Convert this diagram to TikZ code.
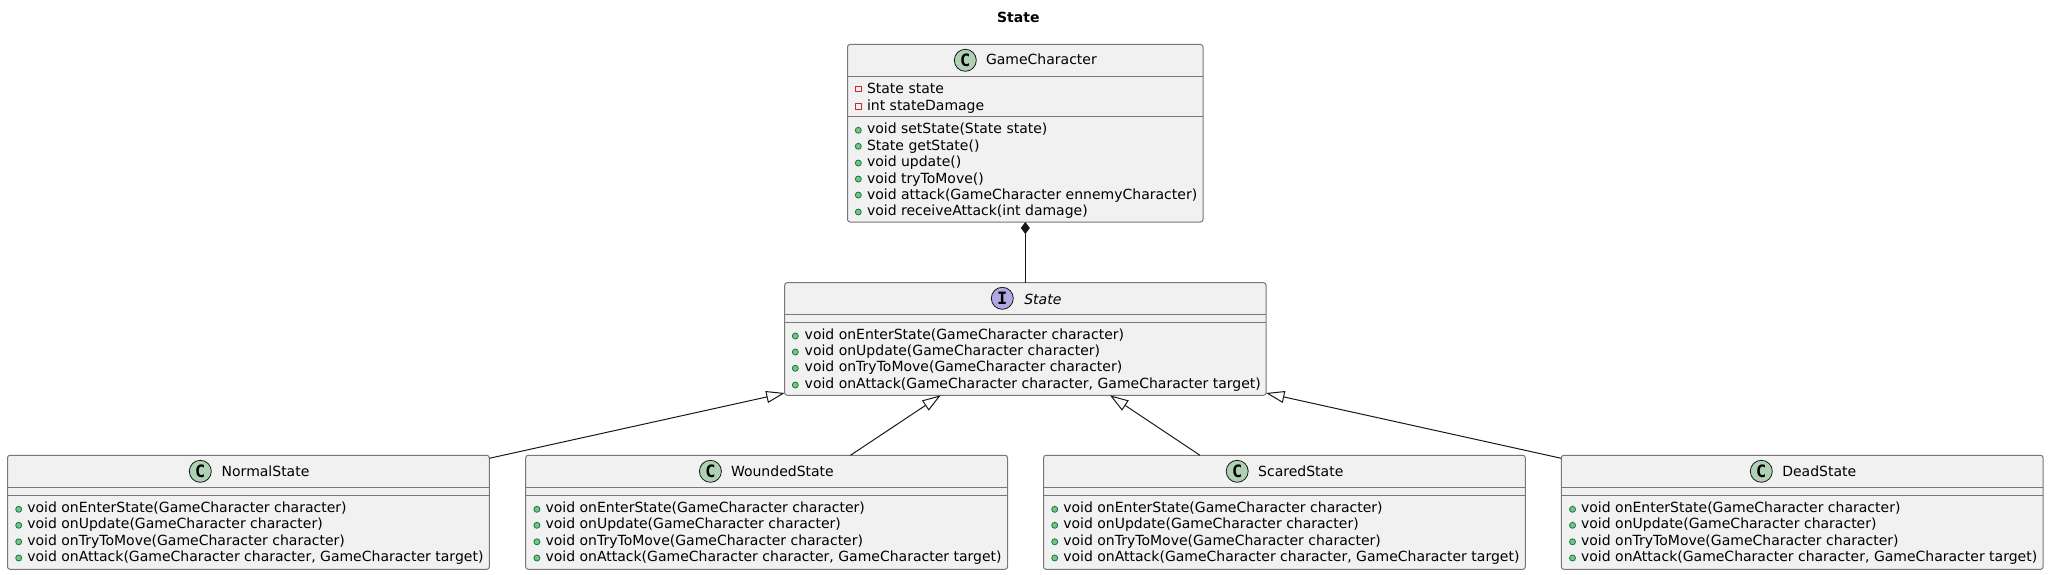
\documentclass[tikz,border=0pt]{standalone}
\usepackage{fontspec}
\setmainfont{DejaVu Sans}
\setmonofont{DejaVu Sans Mono}
\usetikzlibrary{arrows.meta}
\tikzset{
  x=1pt,y=-1pt,
  classbox/.style={draw=umlborder,fill=umlfill,line width=1pt,rounded corners=2.5pt,anchor=north west,inner sep=0pt,outer sep=0pt},
  sepline/.style={draw=umlborder,line width=1pt},
  txt/.style={anchor=base west,inner sep=0pt,outer sep=0pt,font=\fontsize{14}{16}\selectfont,text=black},
  badge/.style={circle,draw=umlline,line width=0.8pt,minimum size=22pt,inner sep=0pt,font=\fontsize{17}{17}\selectfont\ttfamily\bfseries,text=black},
  cbadge/.style={badge,fill=cgreen},
  ibadge/.style={badge,fill=ipurple},
  pub/.style={circle,draw=publine,fill=pubfill,line width=0.8pt,minimum size=6pt,inner sep=0pt},
  priv/.style={rectangle,draw=privline,line width=0.9pt,minimum size=5.5pt,inner sep=0pt},
  extends/.style={draw=umlline,line width=1pt,-{Triangle[open,length=18.5pt,width=12pt,fill=white]}},
  composes/.style={draw=umlline,line width=1pt,{Diamond[length=12pt,width=9pt,fill=umlline]}-}
}
\definecolor{umlborder}{HTML}{777777}
\definecolor{umlfill}{HTML}{F1F1F1}
\definecolor{umlline}{HTML}{181818}
\definecolor{cgreen}{HTML}{ADD1B2}
\definecolor{ipurple}{HTML}{B4A7E5}
\definecolor{publine}{HTML}{038048}
\definecolor{pubfill}{HTML}{84BE84}
\definecolor{privline}{HTML}{C82930}
% #1 id, #2 icon x, #3 icon y, #4 text x, #5 baseline, #6 text
\newcommand{\memberline}[6]{%
  \node[pub] (#1-i) at (#2,#3) {};
  \node[txt] (#1-t) at (#4,#5) {#6};
}
% #1 id, #2 left, #3 top (all state-like boxes share size), #4 badge x, #5 name x, #6 name
\newcommand{\stateclass}[6]{%
  \node[classbox,minimum width=481.8pt,minimum height=114pt] (#1) at (#2,#3) {};
  \draw[sepline] (#2,#3+32) -- (#2+481.8,#3+32);
  \draw[sepline] (#2,#3+40) -- (#2+481.8,#3+40);
  \node[cbadge] (#1-b) at (#4,#3+16) {C};
  \node[txt] (#1-n) at (#5,#3+21.4) {#6};
  \memberline{#1-a}{#2+11.2}{#3+54}{#2+19.8}{#3+57.3}{void onEnterState(GameCharacter character)}
  \memberline{#1-c}{#2+11.2}{#3+70}{#2+19.8}{#3+73.5}{void onUpdate(GameCharacter character)}
  \memberline{#1-d}{#2+11.2}{#3+86.5}{#2+19.8}{#3+89.7}{void onTryToMove(GameCharacter character)}
  \memberline{#1-e}{#2+11.2}{#3+102.7}{#2+19.8}{#3+106}{void onAttack(GameCharacter character, GameCharacter target)}
}
\begin{document}
\begin{tikzpicture}
\useasboundingbox (0,0) rectangle (2049,575);
\node[txt,anchor=base,font=\fontsize{14}{16}\selectfont\bfseries] (title) at (1018.3,22.7) {State};

% GameCharacter
\node[classbox,minimum width=355.5pt,minimum height=177.5pt] (game) at (847.5,44.5) {};
\draw[sepline] (847.5,76.5) -- (1203,76.5);
\draw[sepline] (847.5,116.7) -- (1203,116.7);
\node[cbadge] (game-b) at (965.3,60.3) {C};
\node[txt] (game-n) at (986,65) {GameCharacter};
\node[priv] (game-p1) at (858.3,89.2) {};
\node[txt] (game-a1) at (867,93.3) {State state};
\node[priv] (game-p2) at (858.3,106.5) {};
\node[txt] (game-a2) at (867,110.6) {int stateDamage};
\memberline{game-m1}{858.3}{130.3}{867}{134}{void setState(State state)}
\memberline{game-m2}{858.3}{146.3}{867}{150.2}{State getState()}
\memberline{game-m3}{858.3}{163}{867}{166.4}{void update()}
\memberline{game-m4}{858.3}{179}{867}{183}{void tryToMove()}
\memberline{game-m5}{858.3}{195}{867}{199.2}{void attack(GameCharacter ennemyCharacter)}
\memberline{game-m6}{858.3}{212}{867}{215.4}{void receiveAttack(int damage)}

% State
\node[classbox,minimum width=481.3pt,minimum height=112.6pt] (state) at (784.7,282.7) {};
\draw[sepline] (784.7,314.3) -- (1266,314.3);
\draw[sepline] (784.7,322.3) -- (1266,322.3);
\node[ibadge] (state-b) at (1002.3,298.3) {I};
\node[txt,font=\fontsize{14}{16}\selectfont\itshape] (state-n) at (1024.3,304) {State};
\memberline{state-m1}{795.3}{336}{804.7}{339.3}{void onEnterState(GameCharacter character)}
\memberline{state-m2}{795.3}{352}{804.7}{355.5}{void onUpdate(GameCharacter character)}
\memberline{state-m3}{795.3}{368.3}{804.7}{371.7}{void onTryToMove(GameCharacter character)}
\memberline{state-m4}{795.3}{385}{804.7}{388.3}{void onAttack(GameCharacter character, GameCharacter target)}

% Concrete states
\stateclass{normal}{7.5}{455.3}{200.3}{221.7}{NormalState}
\stateclass{wounded}{525.7}{455.3}{710.4}{731}{WoundedState}
\stateclass{scared}{1043.5}{455.3}{1237.2}{1258.2}{ScaredState}
\stateclass{dead}{1561.3}{455.3}{1761.3}{1782.3}{DeadState}

% Connectors
\draw[composes] ([xshift=177.8pt]game.south west) -- ([xshift=240.6pt]state.north west);
\draw[extends] ([yshift=-3pt]normal.north east) -- ([yshift=2.3pt]state.south west);
\draw[extends] ([xshift=324.7pt]wounded.north west) -- ([xshift=156pt]state.south west);
\draw[extends] ([xshift=156.5pt]scared.north west) -- ([xshift=-156pt]state.south east);
\draw[extends] ([yshift=-3pt]dead.north west) -- ([yshift=2.3pt]state.south east);
\end{tikzpicture}
\end{document}
